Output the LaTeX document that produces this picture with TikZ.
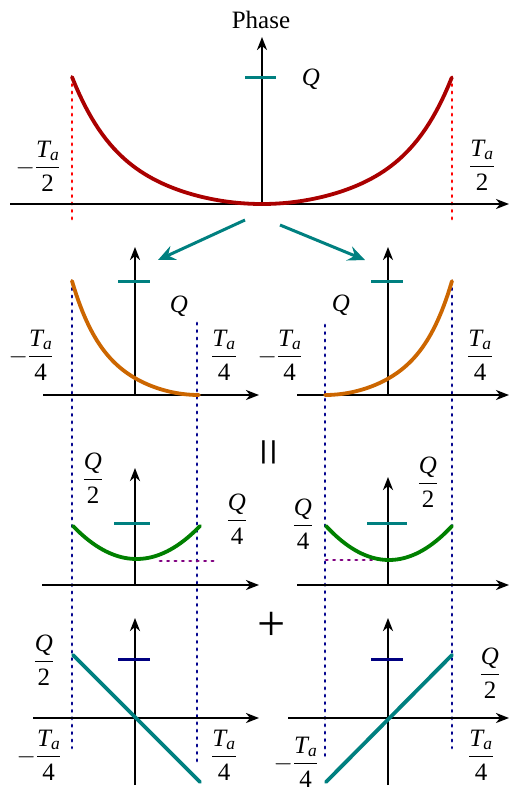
\documentclass[tikz,border=0pt]{standalone}
\usepackage{amsmath}
\usepackage{fontspec}
\setmainfont{Liberation Serif}
\definecolor{phred}{RGB}{170,0,0}
\definecolor{phorange}{RGB}{204,102,0}
\definecolor{phgreen}{RGB}{0,128,0}
\definecolor{phteal}{RGB}{0,128,128}
\definecolor{phnavy}{RGB}{0,0,128}
\definecolor{phpurple}{RGB}{128,0,128}
\definecolor{phdotred}{RGB}{255,0,0}
\definecolor{phdotblue}{RGB}{0,0,140}
\usetikzlibrary{arrows.meta}
\newcommand{\Ta}{\textit{T}_{\textit{a}}}
\newcommand{\fr}[2]{$\dfrac{#1}{\text{#2}}$}
% bowl profile, t in [-1,1] from the vertex
\newcommand{\bowl}[1]{(0.555*(#1)*(#1)+0.445*((#1)*(#1))^3)}

\begin{document}
\begin{tikzpicture}[x=1pt,y=-1pt,
    axis/.style={line width=2.3pt,-{Stealth[length=13pt,width=10pt,inset=4pt]}},
    tick/.style={line width=3pt},
    curve/.style={line width=3.8pt,line cap=round},
    dots/.style={line width=2.8pt,line cap=round,dash pattern=on 1.4pt off 6pt},
    split/.style={phteal,line width=3pt,-{Stealth[length=17pt,width=15pt,inset=6pt]}},
    lbl/.style={font=\fontsize{25}{30}\selectfont,inner sep=0pt},
    bigsym/.style={font=\fontsize{50}{56}\selectfont,inner sep=0pt}]
  \useasboundingbox (0,0) rectangle (509,793);

  % top panel
  \draw[dots,phdotred] (72,77) -- (72,222);
  \draw[dots,phdotred] (452,77) -- (452,222);
  \draw[axis] (10,204) -- (509,204);
  \draw[axis] (262,204) -- (262,37);
  \draw[tick,phteal] (245,77) -- (276,77);
  \draw[curve,phred] plot[domain=-1:1,samples=101] ({262+190*\x},{204-127*\bowl{\x}});
  \node[lbl] (phase) at (261,20) {Phase};
  \node[lbl] (qtop) at (311,79) {\textit{Q}};
  \node[lbl] (tnegtop) at (38,166) {$-$\fr{\Ta}{2}};
  \node[lbl] (tpostop) at (482,165) {\fr{\Ta}{2}};

  % split arrows
  \coordinate (srcl) at (245,220);
  \coordinate (dstl) at (158,260);
  \coordinate (srcr) at (280,225);
  \coordinate (dstr) at (365,260);
  \draw[split] (srcl) -- (dstl);
  \draw[split] (srcr) -- (dstr);

  % blue guides through the lower rows
  \draw[dots,phdotblue] (72,281) -- (72,748);
  \draw[dots,phdotblue] (197,323) -- (197,765);
  \draw[dots,phdotblue] (325,325) -- (325,757);
  \draw[dots,phdotblue] (452,281) -- (452,748);

  % row 2: halves
  \draw[axis] (43,395) -- (259,395);
  \draw[axis] (135,395) -- (135,247);
  \draw[axis] (297,395) -- (509,395);
  \draw[axis] (388,395) -- (388,247);
  \draw[tick,phteal] (118,281) -- (150,281);
  \draw[tick,phteal] (371,281) -- (403,281);
  \draw[curve,phorange] plot[domain=-1:0,samples=61] ({199+127*\x},{395-114*\bowl{\x}});
  \draw[curve,phorange] plot[domain=0:1,samples=61] ({325+127*\x},{395-114*\bowl{\x}});
  \node[lbl] (qleft) at (179,306) {\textit{Q}};
  \node[lbl] (qright) at (341,305) {\textit{Q}};
  \node[lbl] (tnegl) at (31,355) {$-$\fr{\Ta}{4}};
  \node[lbl] (tposl) at (224,355) {\fr{\Ta}{4}};
  \node[lbl] (tnegr) at (280,355) {$-$\fr{\Ta}{4}};
  \node[lbl] (tposr) at (480,355) {\fr{\Ta}{4}};

  % row 3: even parts
  \node[bigsym,rotate=90] (equal) at (274,452) {=};
  \draw[axis] (42,585) -- (259,585);
  \draw[axis] (135,585) -- (135,468);
  \draw[axis] (297,585) -- (509,585);
  \draw[axis] (388,585) -- (388,477);
  \draw[tick,phteal] (114,523) -- (150,523);
  \draw[tick,phteal] (367,523) -- (407,523);
  \draw[dots,phpurple] (160,561) -- (217,561);
  \draw[dots,phpurple] (326,560) -- (380,560);
  \draw[curve,phgreen] plot[domain=-1:1,samples=40] ({136.5+63.5*\x},{559-33*\x*\x});
  \draw[curve,phgreen] plot[domain=-1:1,samples=40] ({389+63*\x},{560-34*\x*\x});
  \node[lbl] (qhalfl) at (93,478) {\fr{\textit{Q}}{2}};
  \node[lbl] (qquartl) at (237,519) {\fr{\textit{Q}}{4}};
  \node[lbl] (qquartr) at (303,524) {\fr{\textit{Q}}{4}};
  \node[lbl] (qhalfr) at (428,482) {\fr{\textit{Q}}{2}};

  % row 4: odd parts
  \node[bigsym] (plus) at (272,626) {+};
  \draw[axis] (33,718) -- (259,718);
  \draw[axis] (135,785) -- (135,618);
  \draw[axis] (288,718) -- (509,718);
  \draw[axis] (388,785) -- (388,618);
  \draw[tick,phnavy] (118,659) -- (150,659);
  \draw[tick,phnavy] (371,659) -- (403,659);
  \draw[curve,phteal] (73,655) -- (200,782);
  \draw[curve,phteal] (326,782) -- (452,655);
  \node[lbl] (qhalfbl) at (44,660) {\fr{\textit{Q}}{2}};
  \node[lbl] (tnegbl) at (39,755) {$-$\fr{\Ta}{4}};
  \node[lbl] (tposbl) at (224,755) {\fr{\Ta}{4}};
  \node[lbl] (tnegbr) at (296,762) {$-$\fr{\Ta}{4}};
  \node[lbl] (qhalfbr) at (490,673) {\fr{\textit{Q}}{2}};
  \node[lbl] (tposbr) at (481,755) {\fr{\Ta}{4}};
\end{tikzpicture}
\end{document}
